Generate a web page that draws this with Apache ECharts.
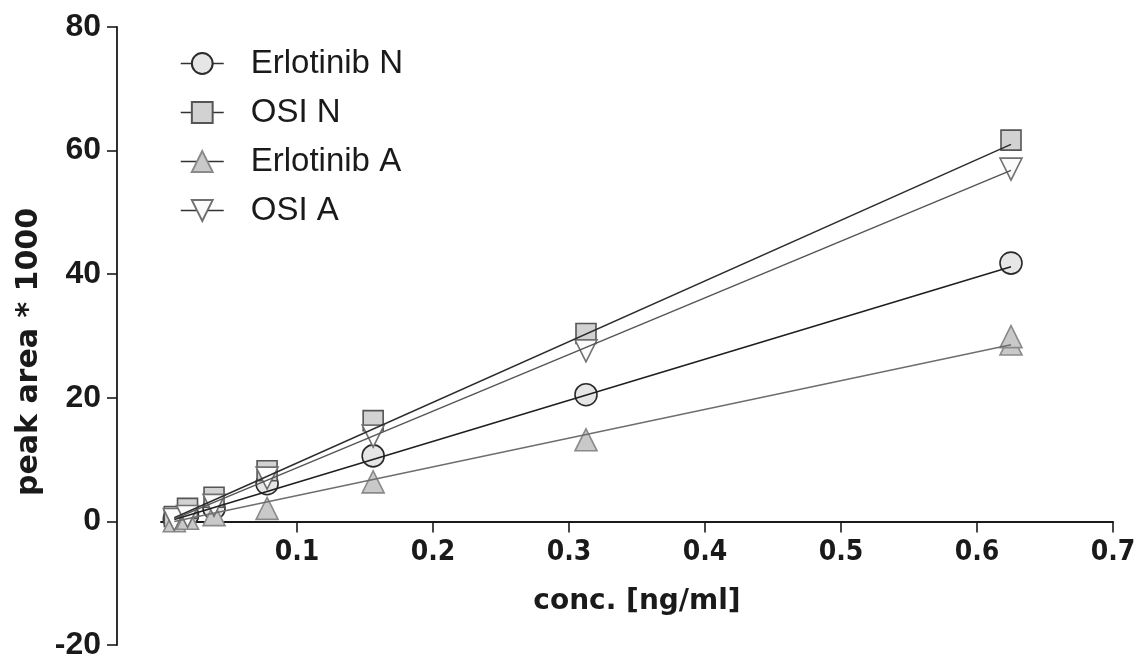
<!DOCTYPE html>
<html>
<head>
<meta charset="utf-8">
<title>Calibration curves</title>
<script src="https://cdn.jsdelivr.net/npm/echarts@6/dist/echarts.min.js"></script>
<style>
  html, body { margin: 0; padding: 0; background: #fff; }
  #chart { width: 1141px; height: 659px; }
</style>
</head>
<body>
<div id="chart"></div>
<script>
// Concentration levels of the calibration series (ng/ml)
const conc = [0.0098, 0.0195, 0.039, 0.078, 0.156, 0.3125, 0.625];

// Measured peak areas (* 1000) per analyte / matrix
const erlN = [0.4, 1.0, 2.1, 6.1, 10.6, 20.5, 41.8];
const osiN = [0.8, 2.1, 3.9, 8.2, 16.3, 30.4, 61.7];
const erlA = [0.1, 0.5, 1.1, 2.1, 6.4, 13.2, 28.7];
const osiA = [0.3, 0.8, 2.6, 7.0, 13.8, 27.6, 57.0];
// Replicate reading at the top level
const erlAExtra = [[0.625, 29.9]];

// Linear regression lines (start / end of the fitted range)
const fitErlN = [[0.0098, 0.3], [0.625, 41.2]];
const fitOsiN = [[0.0098, 0.6], [0.625, 61.0]];
const fitErlA = [[0.0098, 0.0], [0.625, 28.6]];
const fitOsiA = [[0.0098, 0.4], [0.625, 56.8]];

// Axis ticks
const xTicks = [0, 0.1, 0.2, 0.3, 0.4, 0.5, 0.6, 0.7];
const yTicks = [-20, 0, 20, 40, 60, 80];

const names = ['Erlotinib N', 'OSI N', 'Erlotinib A', 'OSI A'];

const pts = vals => conc.map((c, i) => [c, vals[i]]);

const GRID_TOP = 27, GRID_BOTTOM = 14, H = 659;
const plotH = H - GRID_TOP - GRID_BOTTOM;
// x axis runs along y = 0, so lift it from the bottom of the grid by the -20..0 span
const xAxisLift = plotH * (0 - yTicks[0]) / (yTicks[yTicks.length - 1] - yTicks[0]);

const chart = echarts.init(document.getElementById('chart'), null, { renderer: 'canvas' });

const markerSeries = (name, data, symbol, size, fill, border, rotate) => ({
  name: name,
  type: 'line',
  data: data,
  symbol: symbol,
  symbolSize: size,
  symbolRotate: rotate || 0,
  showAllSymbol: true,
  clip: false,
  lineStyle: { opacity: 0 },
  itemStyle: { color: fill, borderColor: border, borderWidth: 1.6, opacity: 1 },
  emphasis: { disabled: true },
  z: 3
});

const fitSeries = (name, data, color) => ({
  name: name + ' fit',
  type: 'line',
  data: data,
  symbol: 'none',
  lineStyle: { color: color, width: 1.5 },
  emphasis: { disabled: true },
  silent: true,
  z: 5
});

const fontMain = 'Liberation Sans, Arial, sans-serif';
const fontWide = 'DejaVu Sans, Liberation Sans, sans-serif';

chart.setOption({
  backgroundColor: '#ffffff',
  animation: false,
  grid: { left: 161, right: 28, top: GRID_TOP, bottom: GRID_BOTTOM, containLabel: false, outerBoundsMode: 'none' },
  legend: {
    data: names,
    orient: 'vertical',
    left: 180,
    top: 47,
    padding: 0,
    itemWidth: 43,
    itemHeight: 26,
    itemGap: 16,
    selectedMode: false,
    textStyle: { fontFamily: fontMain, fontSize: 33, color: '#1a1a1a', padding: [0, 0, 0, 22] },
    lineStyle: { color: '#333', width: 1.5, opacity: 1 }
  },
  xAxis: {
    type: 'value',
    min: xTicks[0],
    max: xTicks[xTicks.length - 1],
    interval: 0.1,
    position: 'bottom',
    offset: -xAxisLift,
    name: 'conc. [ng/ml]',
    nameLocation: 'middle',
    nameGap: 66,
    nameTextStyle: { fontFamily: fontWide, fontWeight: 'bold', fontSize: 28, color: '#1a1a1a' },
    axisLine: { onZero: false, lineStyle: { color: '#1a1a1a', width: 1.8 } },
    axisTick: { show: true, inside: false, length: 11, lineStyle: { color: '#1a1a1a', width: 1.6 } },
    axisLabel: {
      showMinLabel: false,
      margin: 17,
      fontFamily: 'Liberation Sans Narrow, DejaVu Sans Condensed, Liberation Sans, sans-serif',
      fontWeight: 'bold',
      fontSize: 28,
      color: '#1a1a1a',
      formatter: v => String(Math.round(v * 10) / 10)
    },
    splitLine: { show: false }
  },
  yAxis: {
    type: 'value',
    min: yTicks[0],
    max: yTicks[yTicks.length - 1],
    interval: 20,
    offset: 44,
    name: 'peak area * 1000',
    nameLocation: 'middle',
    nameGap: 69,
    nameTextStyle: { fontFamily: fontWide, fontWeight: 'bold', fontSize: 30, color: '#1a1a1a', padding: [0, 32, 0, 0] },
    axisLine: { show: true, onZero: false, lineStyle: { color: '#1a1a1a', width: 1.8 } },
    axisTick: { show: true, inside: false, length: 10, lineStyle: { color: '#1a1a1a', width: 1.6 } },
    axisLabel: {
      margin: 16,
      fontFamily: fontMain,
      fontWeight: 'bold',
      fontSize: 32,
      color: '#1a1a1a'
    },
    splitLine: { show: false }
  },
  series: [
    markerSeries('Erlotinib N', pts(erlN), 'circle', 22, '#e6e6e6', '#2a2a2a'),
    markerSeries('OSI N', pts(osiN), 'rect', 20, '#d2d2d2', '#555555'),
    markerSeries('Erlotinib A', pts(erlA).concat(erlAExtra), 'triangle', 22, '#c9c9c9', '#8a8a8a'),
    markerSeries('OSI A', pts(osiA), 'triangle', 22, '#fbfbfb', '#707070', 180),
    fitSeries('Erlotinib N', fitErlN, '#1e1e1e'),
    fitSeries('OSI N', fitOsiN, '#2c2c2c'),
    fitSeries('Erlotinib A', fitErlA, '#6e6e6e'),
    fitSeries('OSI A', fitOsiA, '#555555')
  ]
});
</script>
</body>
</html>
